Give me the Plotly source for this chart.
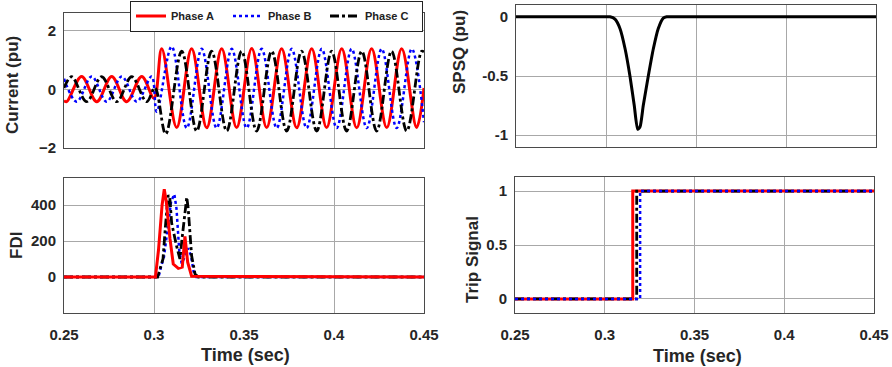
import plotly.graph_objects as go

W, H = 892, 367

# ---------------- data ----------------
# Current waveforms: extremum points (time in s, value in pu)
cur_t_A = [0.2500, 0.2515, 0.2598, 0.2682, 0.2765, 0.2848, 0.2932, 0.3000, 0.3043,
           0.3126, 0.3209, 0.3293, 0.3376, 0.3459, 0.3543, 0.3626, 0.3709, 0.3793,
           0.3876, 0.3959, 0.4043, 0.4126, 0.4209, 0.4293, 0.4376, 0.4459, 0.4500]
cur_v_A = [-0.38, -0.42, 0.44, -0.42, 0.44, -0.42, 0.44, -0.30, 1.38,
           -1.30, 1.38, -1.31, 1.38, -1.30, 1.39, -1.30, 1.38, -1.31,
           1.38, -1.30, 1.38, -1.31, 1.38, -1.30, 1.38, -1.30, 0.05]

cur_t_B = [0.2500, 0.2571, 0.2654, 0.2737, 0.2821, 0.2904, 0.2987, 0.3015, 0.3098,
           0.3182, 0.3265, 0.3348, 0.3432, 0.3515, 0.3598, 0.3682, 0.3765, 0.3848,
           0.3932, 0.4015, 0.4098, 0.4182, 0.4265, 0.4348, 0.4432, 0.4500]
cur_v_B = [0.36, -0.42, 0.44, -0.42, 0.44, -0.42, 0.44, -0.76, 1.46,
           -1.32, 1.38, -1.32, 1.38, -1.32, 1.38, -1.32, 1.38, -1.32,
           1.38, -1.32, 1.38, -1.32, 1.38, -1.32, 1.38, -1.12]

cur_t_C = [0.2500, 0.2543, 0.2626, 0.2709, 0.2793, 0.2876, 0.2959, 0.3005, 0.3065,
           0.3154, 0.3237, 0.3320, 0.3404, 0.3487, 0.3570, 0.3654, 0.3737, 0.3820,
           0.3904, 0.3987, 0.4070, 0.4154, 0.4237, 0.4320, 0.4404, 0.4487, 0.4500]
cur_v_C = [0.05, 0.43, -0.42, 0.43, -0.42, 0.43, -0.42, 0.05, -1.52,
           1.30, -1.42, 1.30, -1.42, 1.30, -1.42, 1.30, -1.42, 1.30,
           -1.42, 1.30, -1.42, 1.30, -1.42, 1.30, -1.42, 1.30, 1.28]

# FDI
fdi_t_A = [0.2500, 0.3008, 0.3025, 0.3045, 0.3057, 0.3068, 0.3089, 0.3107, 0.3135,
           0.3157, 0.3172, 0.3187, 0.3209, 0.4500]
fdi_v_A = [0, 0, 150, 400, 488, 420, 211, 72, 48, 55, 225, 82, 4, 0]

fdi_t_B = [0.2500, 0.3025, 0.3040, 0.3055, 0.3080, 0.3095, 0.3113, 0.3125, 0.3140,
           0.3154, 0.3170, 0.3190, 0.3205, 0.3220, 0.3235, 0.4500]
fdi_v_B = [0, 0, 60, 110, 300, 420, 460, 380, 150, 75, 110, 160, 120, 30, 0, 0]

fdi_t_C = [0.2500, 0.3020, 0.3035, 0.3050, 0.3065, 0.3079, 0.3088, 0.3098, 0.3125,
           0.3144, 0.3160, 0.3182, 0.3190, 0.3209, 0.3228, 0.3246, 0.4500]
fdi_v_C = [0, 0, 50, 100, 300, 455, 440, 300, 174, 100, 250, 443, 380, 118, 17, 0, 0]

# SPSQ
spsq_t = [0.2500, 0.2900, 0.3000, 0.3022, 0.3050, 0.3078, 0.3106, 0.3133, 0.3157,
          0.3176, 0.3189, 0.3207, 0.3235, 0.3263, 0.3290, 0.3318, 0.3337, 0.3360,
          0.3450, 0.4500]
spsq_v = [0, 0, 0, 0, -0.02, -0.10, -0.27, -0.50, -0.75,
          -0.95, -0.93, -0.75, -0.50, -0.27, -0.10, -0.01, 0, 0,
          0, 0]

# Trip signals
trip_t_A = [0.25, 0.3156, 0.45]
trip_t_B = [0.25, 0.3197, 0.45]
trip_t_C = [0.25, 0.3178, 0.45]
trip_v = [0, 1, 1]

x_ticks = [0.25, 0.3, 0.35, 0.4, 0.45]
x_ticktext = ["0.25", "0.3", "0.35", "0.4", "0.45"]
cur_ticks = [-2, 0, 2]
fdi_ticks = [0, 200, 400]
spsq_ticks = [-1, -0.5, 0]
spsq_ticktext = ["-1", "-0.5", "0"]
trip_ticks = [0, 0.5, 1]

names = ["Phase A", "Phase B", "Phase C"]

# ---------------- styling ----------------
FONT = "Liberation Sans, Arial, sans-serif"
RED, BLUE, BLACK = "#ff0000", "#0000ff", "#000000"
styles = {
    "A": dict(color=RED, width=3, dash="solid"),
    "B": dict(color=BLUE, width=2.5, dash="dot"),
    "C": dict(color=BLACK, width=2.8, dash="dashdot"),
}

fig = go.Figure()

# Current
for key, t, v, nm in [("A", cur_t_A, cur_v_A, names[0]),
                      ("B", cur_t_B, cur_v_B, names[1]),
                      ("C", cur_t_C, cur_v_C, names[2])]:
    fig.add_trace(go.Scatter(x=t, y=v, mode="lines", name=nm,
                             line=dict(shape="spline", smoothing=1.0, **styles[key]),
                             xaxis="x", yaxis="y", showlegend=True))

# SPSQ
fig.add_trace(go.Scatter(x=spsq_t, y=spsq_v, mode="lines",
                         line=dict(color=BLACK, width=3, shape="spline", smoothing=0.6),
                         xaxis="x2", yaxis="y2", showlegend=False))

# FDI
for key, t, v in [("B", fdi_t_B, fdi_v_B), ("C", fdi_t_C, fdi_v_C), ("A", fdi_t_A, fdi_v_A)]:
    fig.add_trace(go.Scatter(x=t, y=v, mode="lines",
                             line=dict(**styles[key]),
                             xaxis="x3", yaxis="y3", showlegend=False))

# Trip
for key, t in [("A", trip_t_A), ("C", trip_t_C), ("B", trip_t_B)]:
    fig.add_trace(go.Scatter(x=t, y=trip_v, mode="lines",
                             line=dict(shape="hv", **styles[key]),
                             xaxis="x4", yaxis="y4", showlegend=False))


def dx(a, b):
    return [a / W, b / W]


def dy(top, bottom):
    return [1 - bottom / H, 1 - top / H]


GRID = "#a8a8a8"
LINE = "#4a4a4a"
tickfont = dict(family=FONT, size=15, color="#262626", weight="bold")

common_x = dict(range=[0.25, 0.45], tickvals=x_ticks, ticktext=x_ticktext,
                showgrid=True, gridcolor=GRID, gridwidth=1, zeroline=False,
                showline=True, mirror=True, linecolor=LINE, linewidth=1,
                ticks="", tickfont=tickfont, ticklabelstandoff=8, automargin=False)
common_y = dict(showgrid=True, gridcolor=GRID, gridwidth=1, zeroline=False,
                showline=True, mirror=True, linecolor=LINE, linewidth=1,
                ticks="", tickfont=tickfont, ticklabelstandoff=4, automargin=False)

fig.update_layout(
    template="none",
    width=W, height=H,
    margin=dict(l=0, r=0, t=0, b=0, pad=0),
    paper_bgcolor="white", plot_bgcolor="white",
    font=dict(family=FONT, color="#262626"),
    xaxis=dict(domain=dx(64, 424), anchor="y", showticklabels=False, **common_x),
    yaxis=dict(domain=dy(12.5, 148), anchor="x", range=[-2, 2.62], tickvals=cur_ticks, **common_y),
    xaxis2=dict(domain=dx(516, 876), anchor="y2", showticklabels=False, **common_x),
    yaxis2=dict(domain=dy(5, 147), anchor="x2", range=[-1.1, 0.1], tickvals=spsq_ticks,
                ticktext=spsq_ticktext, **common_y),
    xaxis3=dict(domain=dx(64, 424), anchor="y3", **common_x),
    yaxis3=dict(domain=dy(178, 313), anchor="x3", range=[-200, 550], tickvals=fdi_ticks, **common_y),
    xaxis4=dict(domain=dx(515, 874), anchor="y4", **common_x),
    yaxis4=dict(domain=dy(177, 313), anchor="x4", range=[-0.13, 1.13], tickvals=trip_ticks, **common_y),
    legend=dict(orientation="h", x=423 / W, xanchor="right", y=1 - 0.5 / H, yanchor="top",
                bgcolor="white", bordercolor="#222222", borderwidth=1,
                font=dict(family=FONT, size=11, color="#222222", weight="bold"),
                itemwidth=30, tracegroupgap=0, entrywidth=52, entrywidthmode="pixels"),
)

title_font = dict(family=FONT, size=17, color="#262626", weight="bold")
ytitles = [("Current (pu)", 13, 85), ("FDI", 16, 246), ("SPSQ (pu)", 460, 52), ("Trip Signal", 472, 260)]
for txt, px, py in ytitles:
    fig.add_annotation(text=txt, x=px / W, y=1 - py / H, xref="paper", yref="paper",
                       xanchor="center", yanchor="middle", textangle=-90, showarrow=False,
                       font=title_font)
xtitles = [("Time (sec)", 245, 355), ("Time (sec)", 697, 356)]
for txt, px, py in xtitles:
    fig.add_annotation(text=txt, x=px / W, y=1 - py / H, xref="paper", yref="paper",
                       xanchor="center", yanchor="middle", showarrow=False,
                       font=dict(family=FONT, size=18, color="#262626", weight="bold"))

fig.write_html("out.html", config={"displayModeBar": False},
               post_script="document.body.style.margin='0px';document.body.style.overflow='hidden';")
